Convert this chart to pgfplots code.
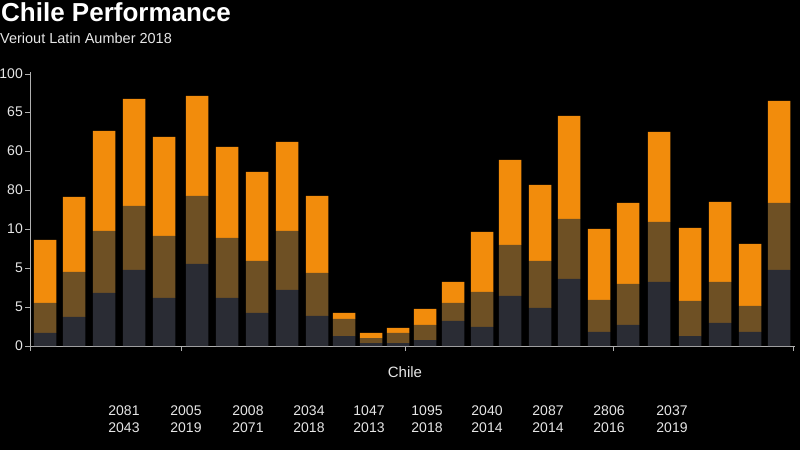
\documentclass[border=0pt]{standalone}
\usepackage{fontspec}
\setmainfont{Liberation Sans}
\usepackage{pgfplots}
\pgfplotsset{compat=1.18}
\definecolor{barDark}{HTML}{2A2C34}
\definecolor{barBrown}{HTML}{6E5024}
\definecolor{barOrange}{HTML}{F28C0C}
\definecolor{txt}{HTML}{E6E6E6}
\definecolor{axl}{HTML}{B0B0B0}
\begin{document}
\begin{tikzpicture}[x=1pt,y=1pt]
\fill[black] (0,0) rectangle (800,450);
\path[use as bounding box] (0,0) rectangle (800,450);
\begin{axis}[
  at={(30pt,104pt)}, anchor=south west,
  scale only axis, width=765pt, height=274pt,
  xmin=30, xmax=795, ymin=0, ymax=274,
  enlargelimits=false,
  axis x line=bottom, axis y line=left,
  x axis line style={-, axl, line width=0.8pt},
  y axis line style={-, axl, line width=0.8pt},
  tick style={axl, line width=0.8pt},
  tick align=outside, major tick length=5pt,
  ytick={0,39,78,117,156,195,234,272},
  yticklabels={0,5,5,10,80,60,65,100},
  xtick={30,181,405,613,793}, xticklabels={},
  yticklabel style={font=\fontsize{14}{16}\selectfont, text=txt, inner sep=2pt},
  /pgf/number format/assume math mode=true,
  ybar stacked, bar width=22.5pt,
  clip=false,
]
\addplot[fill=barDark, draw=none] coordinates {
(45,13) (74,29) (104,53) (134,76) (164,48) (197,82) (227,48) (257,33) (287,56) (317,30)
(344,10) (371,3) (398,3) (425,6) (453,25) (482,19) (510,50) (540,38) (569,67) (599,14)
(628,21) (659,64) (690,10) (720,23) (750,14) (779,76)};
\addplot[fill=barBrown, draw=none] coordinates {
(45,30) (74,45) (104,62) (134,64) (164,62) (197,68) (227,60) (257,52) (287,59) (317,43)
(344,17) (371,5) (398,10) (425,15) (453,18) (482,35) (510,51) (540,47) (569,60) (599,32)
(628,41) (659,60) (690,35) (720,41) (750,26) (779,67)};
\addplot[fill=barOrange, draw=none] coordinates {
(45,63) (74,75) (104,100) (134,107) (164,99) (197,100) (227,91) (257,89) (287,89) (317,77)
(344,6) (371,5) (398,5) (425,16) (453,21) (482,60) (510,85) (540,76) (569,103) (599,71)
(628,81) (659,90) (690,73) (720,80) (750,62) (779,102)};
\end{axis}
\node[anchor=base west, inner sep=0, text=white, font=\fontsize{26}{30}\selectfont\bfseries] at (1,428) {Chile Performance};
\node[anchor=base west, inner sep=0, text=txt, font=\fontsize{14.5}{17}\selectfont] at (0,406) {Veriout Latin Aumber 2018};
\node[text=txt, font=\fontsize{15}{17}\selectfont] at (405,78) {Chile};
\foreach \x/\a/\b in {124/2081/2043, 186/2005/2019, 248/2008/2071, 309/2034/2018, 369/1047/2013, 427/1095/2018, 487/2040/2014, 548/2087/2014, 609/2806/2016, 672/2037/2019} {
  \node[text=txt, font=\fontsize{14}{17}\selectfont, align=center] at (\x,30.5) {\a\\\b};
}
\end{tikzpicture}
\end{document}
